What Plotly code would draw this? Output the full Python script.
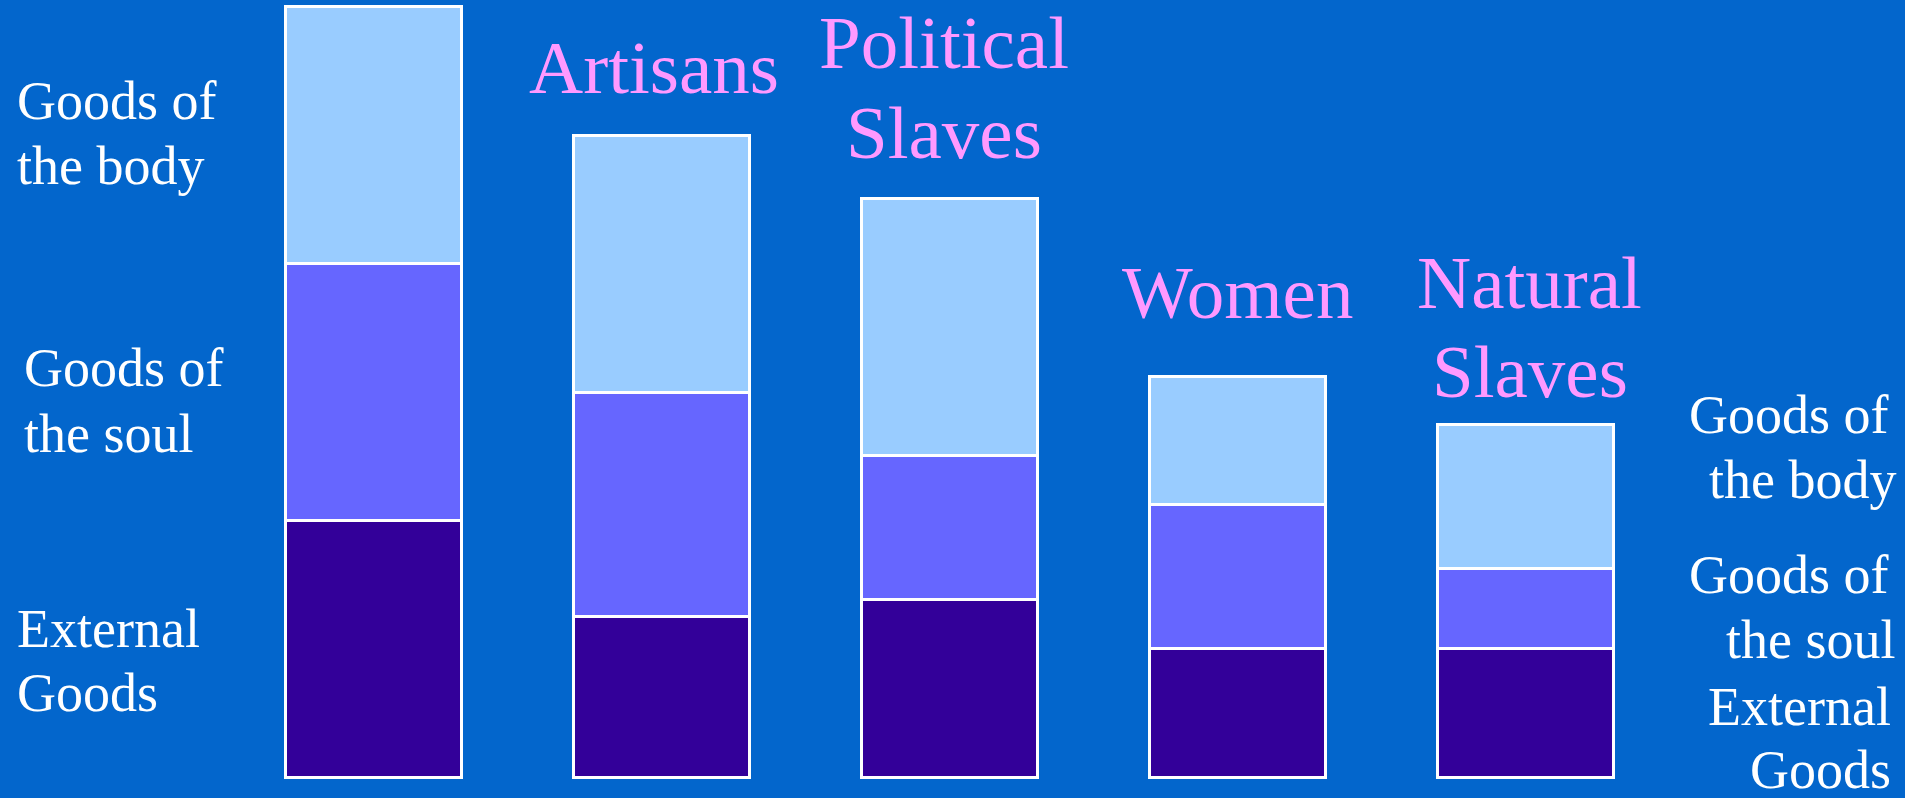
import plotly.graph_objects as go

# ---- data ----
bar_positions = [0, 1, 2, 3, 4]
group_labels = [[], ["Artisans"], ["Political", "Slaves"], ["Women"], ["Natural", "Slaves"]]
external_goods = [10.0, 6.26, 6.9, 5.0, 5.0]
goods_of_soul = [10.0, 8.7, 5.6, 5.6, 3.1]
goods_of_body = [10.0, 10.0, 10.0, 5.0, 5.6]
series_names = ["External Goods", "Goods of the soul", "Goods of the body"]

# ---- styling / layout constants ----
W, H = 1905, 798
BG = "#0366CC"
COLORS = ["#330099", "#6666FF", "#99CCFF"]
PINK = "#FF99FF"
FONT = "Liberation Serif, Times New Roman, serif"
PX_PER_UNIT_Y = 25.7
BASE_PX = 777
PX_PER_CAT = 288
FIRST_CENTER_PX = 373.5

y_range = [-(H - BASE_PX) / PX_PER_UNIT_Y, BASE_PX / PX_PER_UNIT_Y]
x_range = [-FIRST_CENTER_PX / PX_PER_CAT, (W - FIRST_CENTER_PX) / PX_PER_CAT]

fig = go.Figure()
for name, vals, col in zip(series_names, [external_goods, goods_of_soul, goods_of_body], COLORS):
    fig.add_trace(go.Bar(
        x=bar_positions, y=vals, name=name, width=0.611,
        marker=dict(color=col, line=dict(color="white", width=3)),
        hoverinfo="skip",
    ))

annotations = []
# pink group labels above bars
label_xshift = [0, -8, -6, 0, 4]
label_baselines = {1: [93], 2: [68, 158], 3: [318], 4: [308, 397]}
PINK_SIZE = 75
for i, lines in enumerate(group_labels):
    for j, line in enumerate(lines):
        base = label_baselines[i][j]
        annotations.append(dict(
            x=bar_positions[i], xref="x", xshift=label_xshift[i],
            y=1 - (base - 0.3375 * PINK_SIZE) / H, yref="paper",
            text=line, showarrow=False, xanchor="center", yanchor="middle",
            font=dict(family=FONT, size=PINK_SIZE, color=PINK),
        ))

# white legend-like texts
WHITE_SIZE = 54
left_texts = [("Goods of", 15, 101), ("the body", 15, 166), ("Goods of", 22, 368),
              ("the soul", 22, 434), ("External", 15, 629), ("Goods", 15, 693)]
for t, px, py in left_texts:
    annotations.append(dict(
        x=px / W, xref="paper", y=1 - py / H, yref="paper", text=t,
        showarrow=False, xanchor="left", yanchor="middle",
        font=dict(family=FONT, size=WHITE_SIZE, color="white"),
    ))
right_texts = [("Goods of", 1891, 433), ("the body", 1898, 498), ("Goods of", 1891, 593),
               ("the soul", 1898, 658), ("External", 1893, 725), ("Goods", 1893, 788)]
for t, px, base in right_texts:
    annotations.append(dict(
        x=px / W, xref="paper", y=1 - (base - 0.3375 * WHITE_SIZE) / H, yref="paper", text=t,
        showarrow=False, xanchor="right", yanchor="middle",
        font=dict(family=FONT, size=WHITE_SIZE, color="white"),
    ))

fig.update_layout(
    width=W, height=H, barmode="stack", showlegend=False,
    paper_bgcolor=BG, plot_bgcolor=BG,
    margin=dict(l=0, r=0, t=0, b=0),
    xaxis=dict(range=x_range, visible=False, fixedrange=True),
    yaxis=dict(range=y_range, visible=False, fixedrange=True),
    annotations=annotations,
)

fig.write_html("out.html", config={"displayModeBar": False})
